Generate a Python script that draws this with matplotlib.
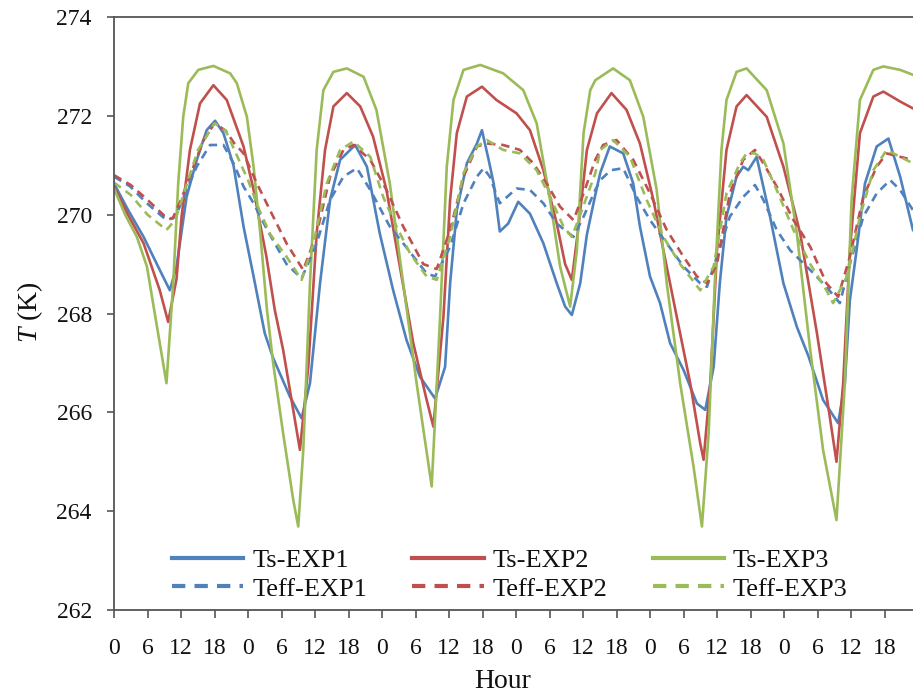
import matplotlib
matplotlib.use("Agg")
import matplotlib.pyplot as plt

plt.rcParams['font.family'] = ['Liberation Serif', 'DejaVu Serif']
plt.rcParams['mathtext.fontset'] = 'custom'
plt.rcParams['mathtext.it'] = 'Liberation Serif:italic'
plt.rcParams['mathtext.rm'] = 'Liberation Serif'

# ---- data (hours since start, temperature in K) ----
ts1_h = [0, 2.5, 5.3, 8.2, 10, 11.2, 13, 14.8, 16.6, 18.1, 19.6, 21.4, 23.2, 25, 27, 28.5, 31.5, 33.6, 35.1, 36.9,
         38.7, 40.5, 43.2, 45.3, 47.6, 50, 52.4, 54.8, 57.5, 59.3, 60.2, 61.4, 63.2, 65, 65.9, 67.1, 68, 69.1, 70.6, 72.4,
         74.5, 76.9, 79.3, 80.8, 82, 83.5, 84.7, 86.2, 87.1, 88.8, 91.2, 93, 94.2, 96, 97.8, 99.6, 102, 104.4, 105.9, 107.4,
         108.5, 109.7, 111.5, 112.7, 113.6, 115.1, 117.5, 119.9, 122.3, 124.4, 127, 129.7, 130.9, 131.8, 133, 134.5, 136.6,
         138.7, 140.8, 143.1]
ts1 = [270.63, 270.1, 269.55, 268.88, 268.47, 268.95, 270.36, 271.1, 271.71, 271.9, 271.65, 271.0, 269.76, 268.75, 267.6,
       267.1, 266.32, 265.88, 266.59, 268.61, 270.3, 271.11, 271.41, 270.97, 269.62, 268.47, 267.46, 266.72, 266.28, 266.92,
       268.61, 270.09, 271.04, 271.44, 271.71, 271.11, 270.63, 269.66, 269.82, 270.26, 270.02, 269.42, 268.61, 268.14, 267.97,
       268.61, 269.6, 270.4, 270.85, 271.38, 271.24, 270.63, 269.76, 268.75, 268.21, 267.4, 266.86, 266.18, 266.05, 266.92,
       268.61, 269.96, 270.77, 270.97, 270.9, 271.17, 269.96, 268.61, 267.73, 267.13, 266.25, 265.78, 266.59, 268.27, 269.28,
       270.63, 271.38, 271.54, 270.77, 269.69]

ts2_h = [0, 2.5, 5.3, 8.2, 9.7, 11.2, 12.1, 13.6, 15.4, 17.8, 20.2, 23.2, 25, 27.3, 28.8, 30.3, 33.3, 34.8, 36.3, 37.8,
         39.3, 41.7, 44.1, 46.4, 48.8, 51.2, 53.6, 56, 57.2, 59, 60.2, 61.4, 63.2, 65.9, 68.5, 72.1, 74.5, 76.9, 79.3, 80.8,
         82, 83.2, 84.7, 86.5, 89.1, 91.8, 94.2, 96.6, 98.4, 100.8, 103.2, 105, 105.6, 106.8, 108, 109.7, 111.5, 113.3, 116.9,
         119.9, 122.9, 125.9, 128.2, 129.4, 130.6, 131.8, 133.6, 136, 137.8, 140.8, 143.1]
ts2 = [270.57, 270.0, 269.42, 268.47, 267.83, 268.7, 269.96, 271.31, 272.25, 272.62, 272.32, 271.38, 270.5, 269.15, 268.07,
       267.26, 265.24, 266.92, 269.62, 271.31, 272.19, 272.46, 272.19, 271.58, 270.5, 268.95, 267.4, 266.25, 265.71, 267.93,
       270.3, 271.65, 272.39, 272.59, 272.32, 272.05, 271.71, 270.9, 269.82, 269.0, 268.68, 269.76, 271.31, 272.05, 272.46,
       272.12, 271.44, 270.3, 269.28, 267.93, 266.59, 265.37, 265.04, 266.59, 269.28, 271.31, 272.19, 272.42, 271.98, 270.97,
       269.62, 267.6, 265.91, 265.0, 266.59, 269.28, 271.65, 272.39, 272.49, 272.29, 272.15]

ts3_h = [0, 2, 4.1, 5.9, 7.6, 9.4, 10.6, 11.5, 12.4, 13.3, 15.1, 17.8, 20.8, 22, 23.8, 25, 26.2, 27.4, 28.5, 30.3, 32.1,
         33, 33.9, 35.1, 36.3, 37.5, 39.3, 41.7, 44.7, 47, 49.4, 51.8, 54.2, 56.9, 58.4, 59.6, 60.8, 62.6, 65.6, 69.7, 73.3,
         75.7, 78.1, 79.9, 81.7, 82.9, 84.1, 85.3, 86.2, 89.4, 92.4, 94.8, 97.2, 99, 101.4, 103.8, 105.3, 106.5, 107.6, 108.8,
         109.7, 111.5, 113.3, 116.9, 119.9, 122.3, 124.7, 127, 129.4, 130.9, 132.1, 133.6, 136, 137.8, 140.8, 143.1]
ts3 = [270.53, 270.0, 269.55, 268.95, 267.8, 266.59, 268.6, 270.63, 271.98, 272.66, 272.93, 273.01, 272.86, 272.66, 271.98,
       270.97, 269.62, 268.07, 267.0, 265.57, 264.23, 263.69, 265.24, 268.61, 271.31, 272.52, 272.89, 272.96, 272.79, 272.12,
       270.63, 268.61, 266.59, 264.5, 267.93, 270.97, 272.32, 272.93, 273.03, 272.86, 272.52, 271.85, 270.3, 268.95, 268.14,
       269.28, 271.65, 272.52, 272.72, 272.96, 272.72, 271.98, 270.5, 268.61, 266.59, 264.9, 263.69, 265.57, 268.61, 271.31,
       272.32, 272.89, 272.96, 272.52, 271.44, 269.62, 267.26, 265.24, 263.82, 266.59, 270.3, 272.32, 272.93, 273.0, 272.93,
       272.83]

te1_h = [0, 2.9, 5.9, 9.4, 11, 13, 14.8, 17.2, 19.6, 21.4, 23.2, 25, 27.4, 30.9, 33.6, 36.3, 38.7, 41.1, 43.5, 45.9, 49.4,
         51.8, 56, 57.5, 60.2, 62.6, 65, 66.2, 67.3, 69.1, 72.1, 74.5, 76.9, 79.3, 82.3, 84.1, 86.2, 87.1, 89, 91.2, 93.6,
         96, 99, 102, 105, 106.2, 108, 110.3, 112.7, 114.8, 116.3, 118.7, 121.1, 124.7, 127.6, 130, 131.8, 134.2, 136.6,
         139, 140.8, 143.1]
te1 = [270.77, 270.57, 270.23, 269.89, 269.95, 270.5, 270.97, 271.41, 271.41, 271.04, 270.57, 270.23, 269.7, 269.0, 268.71,
       269.42, 270.3, 270.77, 270.94, 270.5, 269.76, 269.42, 268.81, 268.75, 269.35, 270.23, 270.77, 270.94, 270.77, 270.23,
       270.53, 270.5, 270.23, 269.82, 269.55, 269.96, 270.5, 270.7, 270.9, 270.94, 270.36, 269.89, 269.42, 268.95, 268.61,
       268.54, 269.15, 269.96, 270.36, 270.6, 270.3, 269.69, 269.28, 268.88, 268.54, 268.21, 269.0, 269.96, 270.43, 270.7,
       270.5, 270.09]

te2_h = [0, 3, 6, 9, 10.5, 12, 14, 16, 18, 20, 21.5, 23.2, 25.6, 27.9, 30.9, 33.9, 36.3, 38.7, 41.1, 42.9, 45.9, 48.8,
         51.8, 55.4, 57.8, 60.2, 62.6, 65, 66.8, 69.7, 72.7, 75.1, 77.5, 79.9, 82.3, 84.1, 86.2, 87.6, 90, 93, 96, 99, 102,
         104.4, 106.2, 108, 110.3, 112.7, 114.8, 116.3, 118.7, 121.7, 124.7, 127.6, 129.7, 131.8, 134.2, 136.6, 138.4,
         140.8, 143.1]
te2 = [270.8, 270.6, 270.3, 269.98, 269.92, 270.3, 270.9, 271.5, 271.85, 271.7, 271.45, 271.24, 270.63, 270.1, 269.42,
       268.88, 269.62, 270.77, 271.31, 271.41, 271.11, 270.5, 269.76, 269.0, 268.9, 269.69, 270.77, 271.38, 271.44, 271.41,
       271.31, 271.04, 270.63, 270.16, 269.89, 270.43, 271.11, 271.41, 271.51, 271.11, 270.43, 269.69, 269.15, 268.75,
       268.61, 269.0, 270.43, 271.11, 271.31, 271.04, 270.57, 269.89, 269.35, 268.61, 268.34, 269.15, 270.36, 270.97,
       271.24, 271.17, 271.11]

te3_h = [0, 3, 6, 9.4, 11, 13, 15, 18, 20, 22, 24, 26, 28, 30.9, 33.6, 35.7, 38.1, 40.5, 42.9, 45.9, 48.2, 50.6, 53, 56,
         57.8, 60.2, 62.6, 65, 66.8, 69.7, 72.7, 75.7, 78.1, 80.5, 82, 83.8, 86.2, 87.1, 89.4, 92.4, 95.4, 98.4, 101.4, 105,
         107.4, 109.7, 112.1, 113.3, 114.8, 116.3, 118.7, 121.7, 124.7, 127.6, 128.8, 131.3, 133.6, 136, 138.4, 140.8, 143.1]
te3 = [270.65, 270.4, 270.0, 269.69, 269.9, 270.6, 271.3, 271.85, 271.7, 271.2, 270.7, 270.1, 269.6, 269.15, 268.68,
       269.42, 270.63, 271.31, 271.48, 271.17, 270.36, 269.76, 269.22, 268.75, 268.68, 269.55, 270.84, 271.38, 271.51,
       271.31, 271.24, 270.9, 270.36, 269.76, 269.55, 270.09, 270.84, 271.31, 271.51, 271.17, 270.3, 269.55, 269.0, 268.47,
       268.95, 270.43, 271.04, 271.24, 271.24, 271.11, 270.5, 269.69, 269.0, 268.47, 268.21, 268.75, 269.96, 270.9, 271.31,
       271.17, 271.04]

tick_positions = list(range(0, 144, 6))
tick_labels = ['0', '6', '12', '18'] * 6
y_ticks = [262, 264, 266, 268, 270, 272, 274]

blue, red, green = '#4F81BD', '#C0504D', '#9BBB59'

fig = plt.figure(figsize=(9.13, 6.96), dpi=100)
ax = fig.add_axes([114 / 913, 86 / 696, 804 / 913, 593 / 696])

lw = 1.9
dash = (0, (3.2, 2.2))
l1, = ax.plot(ts1_h, ts1, color=blue, lw=lw, label='Ts-EXP1')
l2, = ax.plot(ts2_h, ts2, color=red, lw=lw, label='Ts-EXP2')
l3, = ax.plot(ts3_h, ts3, color=green, lw=lw, label='Ts-EXP3')
d1, = ax.plot(te1_h, te1, color=blue, lw=lw, ls=dash, label='Teff-EXP1')
d2, = ax.plot(te2_h, te2, color=red, lw=lw, ls=dash, label='Teff-EXP2')
d3, = ax.plot(te3_h, te3, color=green, lw=lw, ls=dash, label='Teff-EXP3')

ax.set_xlim(0, 144)
ax.set_ylim(262, 274)
ax.set_xticks(tick_positions)
ax.set_xticklabels(tick_labels)
ax.set_yticks(y_ticks)
ax.tick_params(axis='y', direction='out', length=5, width=1.2, labelsize=17, pad=11,
               color='#555555', labelcolor='#111111')
ax.tick_params(axis='x', direction='out', length=6, width=1.2, labelsize=17, pad=14,
               color='#555555', labelcolor='#111111')
for s in ['left', 'bottom', 'top', 'right']:
    ax.spines[s].set_color('#555555')
    ax.spines[s].set_linewidth(1.3)

leg = ax.legend(handles=[l1, d1, l2, d2, l3, d3], ncol=3, loc='center',
                bbox_to_anchor=(0.4925, 0.06), frameon=False, fontsize=19,
                handlelength=2.7, handletextpad=0.35, columnspacing=1.7,
                labelspacing=0.2, borderpad=0.2)
for h in leg.get_lines():
    h.set_linewidth(3)
for t in leg.get_texts():
    t.set_color('#111111')

fig.text(30 / 913, 1 - 312 / 696, r'$T$ (K)', rotation=90, ha='center', va='center',
         fontsize=20, color='#111111')
fig.text(503 / 913, 1 - 682 / 696, 'Hour', ha='center', va='center', fontsize=20, color='#111111')

fig.savefig('out.png', dpi=100)
